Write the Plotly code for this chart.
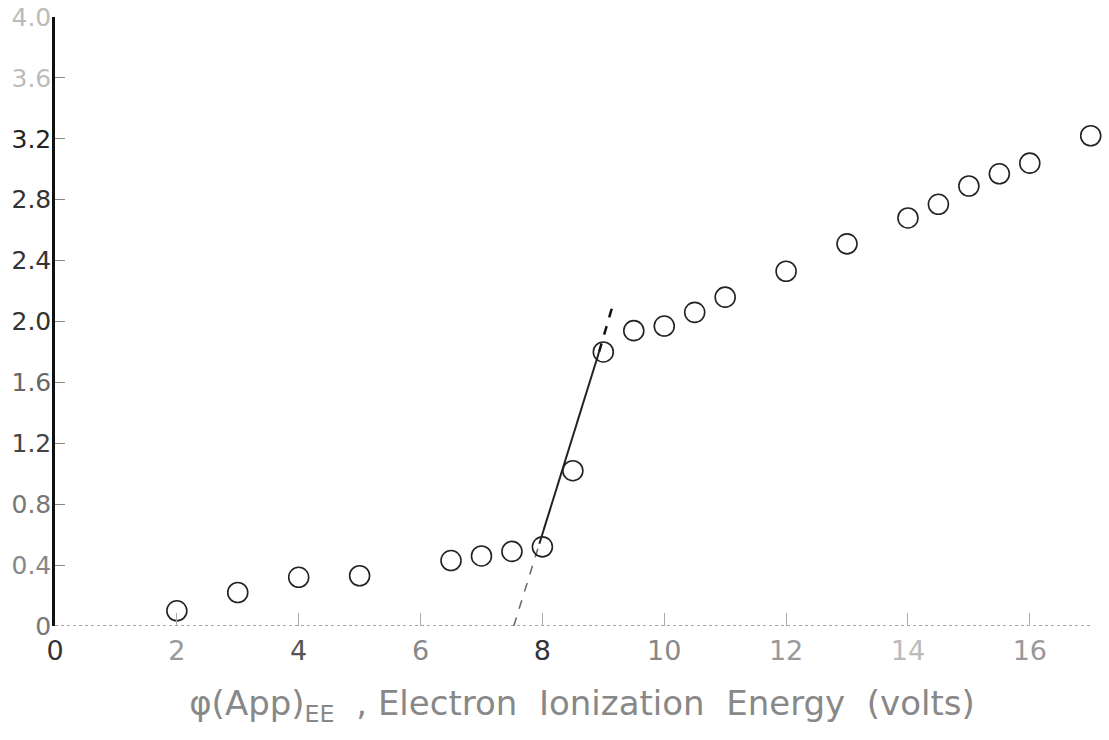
import plotly.graph_objects as go

# Data
energy_x = [2, 3, 4, 5, 6.5, 7, 7.5, 8, 8.5, 9, 9.5, 10, 10.5, 11, 12, 13, 14, 14.5, 15, 15.5, 16, 17]
signal_y = [0.10, 0.22, 0.32, 0.33, 0.43, 0.46, 0.49, 0.52, 1.02, 1.80, 1.94, 1.97, 2.06, 2.16,
            2.33, 2.51, 2.68, 2.77, 2.89, 2.97, 3.04, 3.22]

# Extrapolated appearance-potential line (three pieces: faint, solid, dashed)
fit_low_x = [7.53, 7.95]
fit_low_y = [0.0, 0.54]
fit_mid_x = [7.95, 8.93]
fit_mid_y = [0.54, 1.80]
fit_top_x = [8.93, 9.15]
fit_top_y = [1.80, 2.10]

x_tick_vals = [0, 2, 4, 6, 8, 10, 12, 14, 16]
x_tick_text = ["0", "2", "4", "6", "8", "10", "12", "14", "16"]
x_tick_shade = ["#333", "#999", "#555", "#888", "#333", "#888", "#999", "#bbb", "#999"]
y_tick_vals = [0, 0.4, 0.8, 1.2, 1.6, 2.0, 2.4, 2.8, 3.2, 3.6, 4.0]
y_tick_text = ["0", "0.4", "0.8", "1.2", "1.6", "2.0", "2.4", "2.8", "3.2", "3.6", "4.0"]
y_tick_shade = ["#777", "#888", "#777", "#444", "#666", "#333", "#333", "#333", "#222", "#bbb", "#bbb"]

fig = go.Figure()

fig.add_trace(go.Scatter(x=fit_low_x, y=fit_low_y, mode="lines",
                         line=dict(color="#666", width=1.5, dash="dash"), showlegend=False))
fig.add_trace(go.Scatter(x=fit_mid_x, y=fit_mid_y, mode="lines",
                         line=dict(color="#222", width=2), showlegend=False))
fig.add_trace(go.Scatter(x=fit_top_x, y=fit_top_y, mode="lines",
                         line=dict(color="#111", width=2.5, dash="dash"), showlegend=False))

fig.add_trace(go.Scatter(x=energy_x, y=signal_y, mode="markers",
                         marker=dict(symbol="circle-open", size=20, color="#222",
                                     line=dict(width=1.6, color="#222")),
                         cliponaxis=False, showlegend=False))

# dotted x-axis baseline
fig.add_shape(type="line", xref="x", yref="y", x0=0, x1=17.0, y0=0, y1=0,
              line=dict(color="#888", width=1.5, dash="dot"), layer="below")

title_text = ("φ(App)<sub>EE</sub>\u00a0\u00a0,\u00a0Electron\u00a0\u00a0Ionization\u00a0\u00a0"
              "Energy\u00a0\u00a0(volts)")

fig.update_layout(
    width=1109, height=740,
    margin=dict(l=55, r=0, t=17, b=114, autoexpand=False),
    paper_bgcolor="white", plot_bgcolor="white",
    font=dict(family="DejaVu Sans, Liberation Sans, sans-serif", color="#333", size=25),
    xaxis=dict(
        range=[0, 17.3], showgrid=False, zeroline=False, showline=False, automargin=False,
        tickmode="array", tickvals=x_tick_vals,
        ticktext=[f"<span style='color:{c}'>{t}</span>" for t, c in zip(x_tick_text, x_tick_shade)],
        ticks="inside", ticklen=13, tickwidth=1.2, tickcolor="#aaa",
        tickfont=dict(size=27), ticklabelstandoff=6, ticklabeloverflow="allow",
        title=dict(text=title_text, font=dict(size=34, color="#888"), standoff=26),
    ),
    yaxis=dict(
        range=[0, 4.0], showgrid=False, zeroline=False, automargin=False,
        showline=True, linecolor="#111", linewidth=2.5,
        tickmode="array", tickvals=y_tick_vals,
        ticktext=[f"<span style='color:{c}'>{t}</span>" for t, c in zip(y_tick_text, y_tick_shade)],
        ticks="inside", ticklen=10, tickwidth=1.2, tickcolor="#888",
        tickfont=dict(size=25), ticklabelstandoff=-4, ticklabeloverflow="allow",
    ),
)

fig.write_html("out.html", config={"displayModeBar": False},
               post_script="document.body.style.margin='0';")
